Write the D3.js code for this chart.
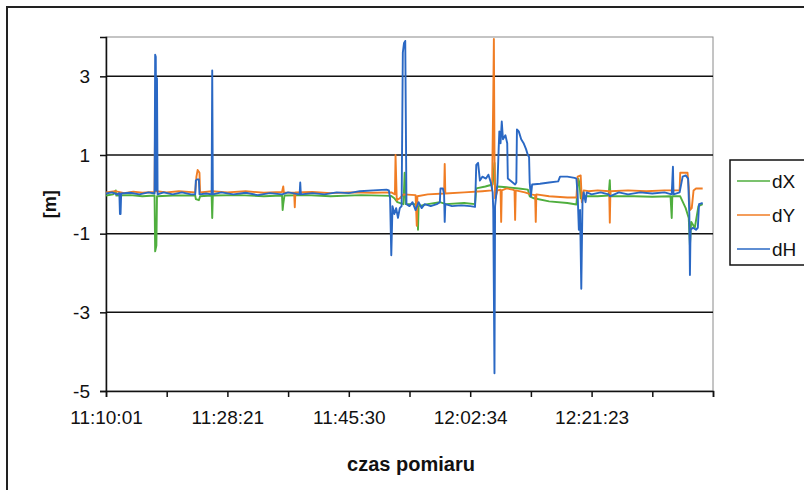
<!DOCTYPE html>
<html>
<head>
<meta charset="utf-8">
<script src="https://cdn.jsdelivr.net/npm/d3@7"></script>
<style>
  body { margin: 0; background: #fff; }
  text { font-family: "Liberation Sans", Arial, sans-serif; }
</style>
</head>
<body>
<div id="chart"></div>
<script>
// sample index (0..1000) and value in metres
const dX = [
  [0, -0.03], [12, 0.0], [16, 0.1], [17, -0.03], [40, -0.02], [60, -0.05], [80, -0.03],
  [81, -1.45], [83, -1.3], [84, -0.05], [110, -0.03], [147, -0.03], [148, -0.12], [153, -0.15],
  [155, -0.05], [174, -0.03], [175, -0.6], [176, -0.03], [220, -0.02], [260, -0.05], [290, -0.03],
  [291, -0.4], [292, -0.25], [294, -0.03], [330, -0.02], [370, -0.05], [420, -0.02], [470, -0.04],
  [475, -0.1], [480, -0.2], [490, -0.25], [492, 0.55], [494, -0.25], [510, -0.25], [513, -0.3],
  [514, -0.9], [515, -0.3], [530, -0.25], [550, -0.2], [560, -0.25], [590, -0.22], [608, -0.25],
  [610, 0.15], [625, 0.2], [637, 0.25], [640, 0.8], [641, 0.1], [645, 0.2], [660, 0.18],
  [680, 0.15], [695, 0.12], [698, -0.05], [705, -0.1], [730, -0.18], [760, -0.22], [775, -0.26],
  [778, 0.4], [780, 0.3], [782, -0.1], [790, -0.05], [810, -0.05], [828, -0.03], [830, 0.36],
  [831, -0.05], [870, -0.05], [900, -0.06], [930, -0.05], [932, -0.6], [933, -0.05], [946, -0.05],
  [955, -0.35], [960, -0.6], [962, -1.3], [964, -0.7], [970, -0.85], [976, -0.3], [983, -0.25]
];
const dY = [
  [0, 0.05], [15, 0.08], [30, 0.03], [45, 0.07], [60, 0.04], [80, 0.06], [81, 2.1], [82, 1.9],
  [83, 0.08], [100, 0.05], [120, 0.08], [147, 0.05], [149, 0.45], [151, 0.62], [154, 0.55],
  [155, 0.05], [175, 0.08], [200, 0.05], [230, 0.08], [260, 0.04], [290, 0.06], [292, 0.2],
  [293, 0.05], [310, 0.04], [311, -0.33], [312, 0.05], [340, 0.06], [370, 0.03], [400, 0.05],
  [440, 0.04], [470, 0.05], [476, 0.0], [477, 1.0], [479, -0.15], [484, -0.1], [490, 0.0],
  [510, -0.02], [512, -0.8], [513, -0.05], [530, 0.0], [557, 0.02], [558, 0.77], [559, 0.02],
  [590, 0.05], [620, 0.08], [636, 0.1], [638, 2.5], [639, 3.95], [640, 1.0], [641, -0.1],
  [645, 0.1], [650, 0.12], [651, -0.7], [652, 0.1], [660, 0.15], [670, 0.12], [673, 0.1],
  [674, -0.65], [675, 0.1], [690, 0.05], [700, 0.0], [707, -0.02], [708, -0.7], [709, 0.0],
  [730, -0.05], [760, -0.08], [775, -0.08], [777, 0.45], [782, 0.48], [784, -0.2], [787, 0.1],
  [795, 0.08], [810, 0.1], [829, 0.08], [830, -0.72], [831, 0.08], [860, 0.1], [890, 0.08],
  [920, 0.1], [945, 0.1], [946, 0.55], [958, 0.55], [960, 0.2], [962, -0.4], [965, -0.35],
  [968, 0.1], [972, 0.15], [983, 0.15]
];
const dH = [
  [0, 0.02], [10, 0.05], [18, 0.0], [22, 0.03], [23, -0.5], [24, -0.5], [25, 0.02], [40, 0.04],
  [55, 0.0], [70, 0.05], [80, 0.02], [81, 3.55], [82, 3.5], [83, 0.1], [84, 2.95], [85, 0.0],
  [95, 0.05], [110, 0.0], [125, 0.05], [140, 0.0], [147, 0.0], [148, 0.35], [150, 0.38],
  [153, 0.38], [154, 0.0], [165, 0.02], [174, 0.0], [175, 3.15], [176, 0.0], [190, 0.05],
  [210, 0.0], [230, 0.04], [250, -0.02], [270, 0.03], [290, 0.0], [300, 0.05], [319, 0.0],
  [320, 0.3], [321, 0.0], [340, 0.03], [360, 0.0], [380, 0.05], [400, 0.03], [418, 0.08],
  [440, 0.1], [462, 0.12], [466, 0.1], [468, -0.1], [470, -1.55], [472, -0.3], [475, -0.5],
  [478, -0.35], [481, -0.6], [484, -0.35], [487, -0.3], [489, 3.6], [491, 3.85], [493, 3.9],
  [495, -0.25], [500, -0.3], [505, -0.2], [510, -0.4], [515, -0.2], [520, -0.35], [525, -0.25],
  [535, -0.3], [545, -0.25], [550, -0.2], [551, 0.15], [555, 0.15], [557, 0.0], [558, -0.7],
  [559, -0.25], [570, -0.3], [585, -0.28], [600, -0.3], [608, -0.32], [610, 0.75], [613, 0.8],
  [616, 0.35], [620, 0.45], [626, 0.4], [630, 0.5], [634, 0.3], [637, 0.05], [638, -0.4],
  [640, -4.55], [641, -0.3], [643, 0.0], [645, 0.3], [647, 1.2], [648, 1.6], [650, 1.3],
  [652, 1.85], [654, 1.4], [658, 1.5], [661, 1.3], [662, 0.4], [666, 0.35], [670, 0.3],
  [674, 0.25], [676, 0.3], [677, 1.65], [680, 1.6], [684, 1.4], [688, 1.3], [692, 1.15],
  [695, 1.0], [697, 0.95], [698, 0.3], [700, -0.05], [702, 0.25], [715, 0.27], [730, 0.3],
  [745, 0.33], [748, 0.45], [760, 0.45], [772, 0.42], [775, 0.4], [777, 0.0], [779, -0.9],
  [781, -0.4], [783, -2.4], [785, -0.2], [787, 0.05], [790, -0.2], [792, 0.05], [800, 0.0],
  [815, 0.05], [828, 0.0], [830, -0.05], [845, 0.05], [860, 0.0], [880, 0.05], [900, 0.02],
  [920, 0.05], [932, 0.0], [934, 0.7], [935, 0.0], [945, 0.05], [950, 0.45], [955, 0.48],
  [959, 0.4], [961, -0.5], [962, -2.05], [963, -0.9], [967, -0.85], [972, -0.9], [975, -0.85],
  [977, -0.25], [983, -0.22]
];

const tickSamples = [0, 100, 200, 300, 400, 500, 600, 700, 800, 900, 1000];
const timeLabels = { 0: '11:10:01', 200: '11:28:21', 400: '11:45:30', 600: '12:02:34', 800: '12:21:23' };
const yTicks = [3, 1, -1, -3, -5];
const seriesNames = ['dX', 'dY', 'dH'];
const seriesCols = ['#4fae3e', '#f07d24', '#2a68c4'];

const width = 804, height = 490;
const margin = { left: 106, top: 37, right: 91, bottom: 99 };

const x = d3.scaleLinear()
  .domain([0, 1000])
  .range([margin.left, width - margin.right]);
const y = d3.scaleLinear()
  .domain([-5, 4])
  .range([height - margin.bottom, margin.top]);

const svg = d3.select('#chart')
  .append('svg')
  .attr('width', width)
  .attr('height', height);

// outer frame
svg.append('rect')
  .attr('x', 7).attr('y', 7)
  .attr('width', 850).attr('height', 540)
  .attr('fill', '#fff')
  .attr('stroke', '#222')
  .attr('stroke-width', 2);

// plot border
svg.append('rect')
  .attr('x', x(0)).attr('y', y(4))
  .attr('width', x(1000) - x(0))
  .attr('height', y(-5) - y(4))
  .attr('fill', 'none')
  .attr('stroke', '#8a8a8a')
  .attr('stroke-width', 1);

// gridlines
svg.append('g')
  .selectAll('line')
  .data(yTicks.filter(d => d !== -5))
  .join('line')
  .attr('x1', x(0))
  .attr('x2', x(1000))
  .attr('y1', d => y(d))
  .attr('y2', d => y(d))
  .attr('stroke', '#111')
  .attr('stroke-width', 1.5);

// y axis
const yAxis = svg.append('g')
  .attr('transform', `translate(${x(0)},0)`)
  .call(d3.axisLeft(y).tickValues(yTicks).tickSize(6).tickPadding(10).tickFormat(d => String(d)));
yAxis.select('.domain').attr('stroke', '#111').attr('stroke-width', 1.5);
yAxis.selectAll('.tick line').attr('stroke', '#111').attr('stroke-width', 1.5);
yAxis.selectAll('.tick text')
  .style('font-size', '19px')
  .attr('fill', '#111');

// x axis
const xAxis = svg.append('g')
  .attr('transform', `translate(0,${y(-5)})`)
  .call(d3.axisBottom(x).tickValues(tickSamples).tickSize(6).tickPadding(14)
    .tickFormat(d => timeLabels[d] || ''));
xAxis.select('.domain').attr('stroke', '#111').attr('stroke-width', 1.5);
xAxis.selectAll('.tick line').attr('stroke', '#111').attr('stroke-width', 1.5);
xAxis.selectAll('.tick text')
  .style('font-size', '19px')
  .attr('fill', '#111');

// axis titles
svg.append('text')
  .attr('transform', `translate(56,${y(-0.25)}) rotate(-90)`)
  .attr('text-anchor', 'middle')
  .style('font-size', '18px')
  .style('font-weight', 'bold')
  .attr('fill', '#111')
  .text('[m]');

svg.append('text')
  .attr('x', 411)
  .attr('y', 471)
  .attr('text-anchor', 'middle')
  .style('font-size', '20px')
  .style('font-weight', 'bold')
  .attr('fill', '#111')
  .text('czas pomiaru');

// series
const line = d3.line()
  .x(d => x(d[0]))
  .y(d => y(d[1]));

[dX, dY, dH].forEach((s, i) => {
  svg.append('path')
    .datum(s)
    .attr('fill', 'none')
    .attr('stroke', seriesCols[i])
    .attr('stroke-width', 1.9)
    .attr('stroke-linejoin', 'round')
    .attr('d', line);
});

// legend
const legend = svg.append('g').attr('transform', 'translate(730,160)');
legend.append('rect')
  .attr('width', 100).attr('height', 105)
  .attr('fill', '#fff')
  .attr('stroke', '#111')
  .attr('stroke-width', 1.5);
const item = legend.selectAll('g.item')
  .data(seriesNames)
  .join('g')
  .attr('class', 'item')
  .attr('transform', (d, i) => `translate(0,${21 + i * 34})`);
item.append('line')
  .attr('x1', 7).attr('x2', 40)
  .attr('stroke', (d, i) => seriesCols[i])
  .attr('stroke-width', 1.6);
item.append('text')
  .attr('x', 42)
  .attr('dy', 7)
  .style('font-size', '19px')
  .attr('fill', '#111')
  .text(d => d);
</script>
</body>
</html>
